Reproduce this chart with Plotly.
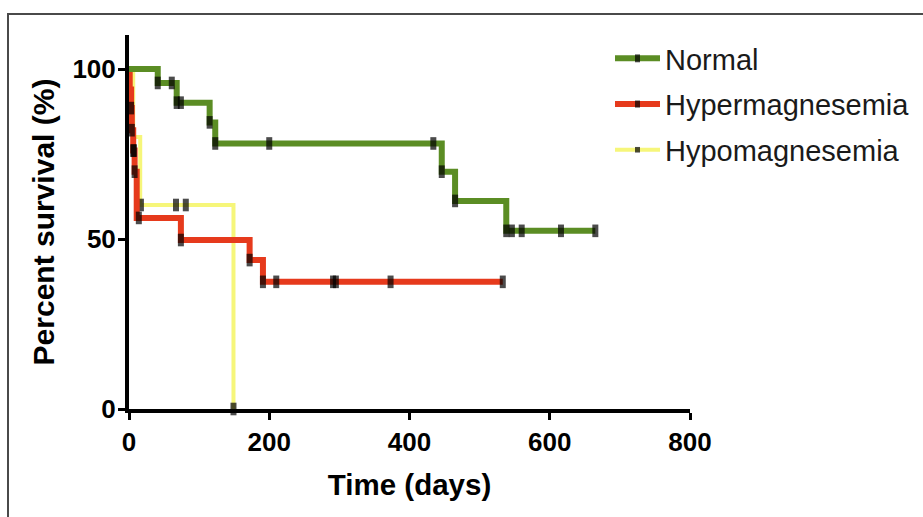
import plotly.graph_objects as go

# ---- data ----
series_names = ["Normal", "Hypermagnesemia", "Hypomagnesemia"]

normal_step_t = [0, 41, 68, 115, 123, 446, 465, 538]
normal_step_s = [100, 95.9, 90.1, 84.3, 78.1, 69.8, 61.2, 52.4]
normal_end_t = 665
normal_cens_t = [41, 61, 68, 74, 115, 123, 200, 434, 446, 465, 538, 546, 560, 616, 665]
normal_cens_s = [95.9, 95.9, 90.1, 90.1, 84.3, 78.1, 78.1, 78.1, 69.8, 61.2, 52.4, 52.4, 52.4, 52.4, 52.4]

hyper_step_t = [0, 1, 3, 4, 6, 8, 11, 74, 172, 191]
hyper_step_s = [100, 94, 88.5, 82, 76, 69.8, 56.2, 49.7, 43.8, 37.4]
hyper_end_t = 533
hyper_cens_t = [3, 4, 6, 7, 8, 14, 74, 172, 191, 210, 291, 295, 373, 533]
hyper_cens_s = [88.5, 82, 76, 76, 69.8, 56.2, 49.7, 43.8, 37.4, 37.4, 37.4, 37.4, 37.4, 37.4]

hypo_step_t = [0, 6, 16, 149]
hypo_step_s = [100, 80, 60, 0]
hypo_end_t = 149
hypo_cens_t = [17, 67, 81, 149]
hypo_cens_s = [60, 60, 60, 0]

x_ticks = [0, 200, 400, 600, 800]
y_ticks = [0, 50, 100]

colors = {"Normal": "#5b8d24", "Hypermagnesemia": "#e63a1c", "Hypomagnesemia": "#f6f67a"}
widths = {"Normal": 6, "Hypermagnesemia": 6, "Hypomagnesemia": 4}
ranks = {"Normal": 1, "Hypermagnesemia": 2, "Hypomagnesemia": 3}


def build(step_t, step_s, end_t, cens_t, cens_s):
    pts = [(t, s, 0, 0) for t, s in zip(step_t, step_s)]
    pts.append((end_t, step_s[-1], 0, 1))
    pts += [(t, s, 1, 2) for t, s in zip(cens_t, cens_s)]
    pts.sort(key=lambda p: (p[0], p[3]))
    xs = [p[0] for p in pts]
    ys = [p[1] for p in pts]
    sz = [9 if p[2] else 0 for p in pts]
    return xs, ys, sz


data = {
    "Normal": build(normal_step_t, normal_step_s, normal_end_t, normal_cens_t, normal_cens_s),
    "Hypermagnesemia": build(hyper_step_t, hyper_step_s, hyper_end_t, hyper_cens_t, hyper_cens_s),
    "Hypomagnesemia": build(hypo_step_t, hypo_step_s, hypo_end_t, hypo_cens_t, hypo_cens_s),
}

fig = go.Figure()
# draw yellow first (underneath); legend order set by legendrank
for name in ["Hypomagnesemia", "Hypermagnesemia", "Normal"]:
    xs, ys, sz = data[name]
    fig.add_trace(go.Scatter(
        x=xs, y=ys, name=name, mode="lines+markers",
        line=dict(color=colors[name], width=widths[name], shape="hv"),
        marker=dict(symbol="line-ns", size=sz, color="black",
                    line=dict(color="black", width=6)),
        legendgroup=name, legendrank=ranks[name], cliponaxis=False,
    ))

W, H = 923, 517
L, R, T, B = 129, 233, 35, 108
pw, ph = W - L - R, H - T - B
base_y = H - B  # pixel of y=0

fig.update_layout(
    width=W, height=H,
    margin=dict(l=L, r=R, t=T, b=B, pad=0, autoexpand=False),
    paper_bgcolor="white", plot_bgcolor="white",
    showlegend=True,
    legend=dict(
        x=(610 - L) / pw, y=(base_y - 33) / ph, xanchor="left", yanchor="top",
        traceorder="grouped", tracegroupgap=5, itemwidth=45,
        font=dict(family="Liberation Sans", size=29, color="#1a1a1a"),
        bgcolor="rgba(0,0,0,0)",
    ),
    xaxis=dict(
        range=[0, 800], tickvals=x_ticks, showgrid=False, zeroline=False,
        showline=True, linecolor="black", linewidth=4,
        ticks="outside", ticklen=7, tickwidth=3, tickcolor="black",
        ticklabelstandoff=0,
        tickfont=dict(family="Liberation Sans", size=26, color="black", weight="bold"),
        title=dict(text="Time (days)", standoff=19,
                   font=dict(family="Liberation Sans", size=29.5, color="black", weight="bold")),
    ),
    yaxis=dict(
        range=[0, 110], tickvals=y_ticks, showgrid=False, zeroline=False,
        showline=True, linecolor="black", linewidth=4,
        ticks="outside", ticklen=7, tickwidth=3, tickcolor="black",
        ticklabelstandoff=-3,
        tickfont=dict(family="Liberation Sans", size=26, color="black", weight="bold"),
        title=dict(text="Percent survival (%)", standoff=10,
                   font=dict(family="Liberation Sans", size=30, color="black", weight="bold")),
    ),
)

# outer frame (top and left edges visible)
fig.add_shape(type="rect", xref="paper", yref="paper",
              x0=(8 - L) / pw, x1=(W + 10 - L) / pw,
              y0=(base_y - (H + 10)) / ph, y1=(base_y - 14) / ph,
              line=dict(color="#4a4a4a", width=2), fillcolor="rgba(0,0,0,0)", layer="below")

fig.write_html(
    "out.html",
    config={"displayModeBar": False},
    post_script="document.documentElement.style.margin='0';document.body.style.margin='0';"
                "document.body.style.overflow='hidden';",
)
